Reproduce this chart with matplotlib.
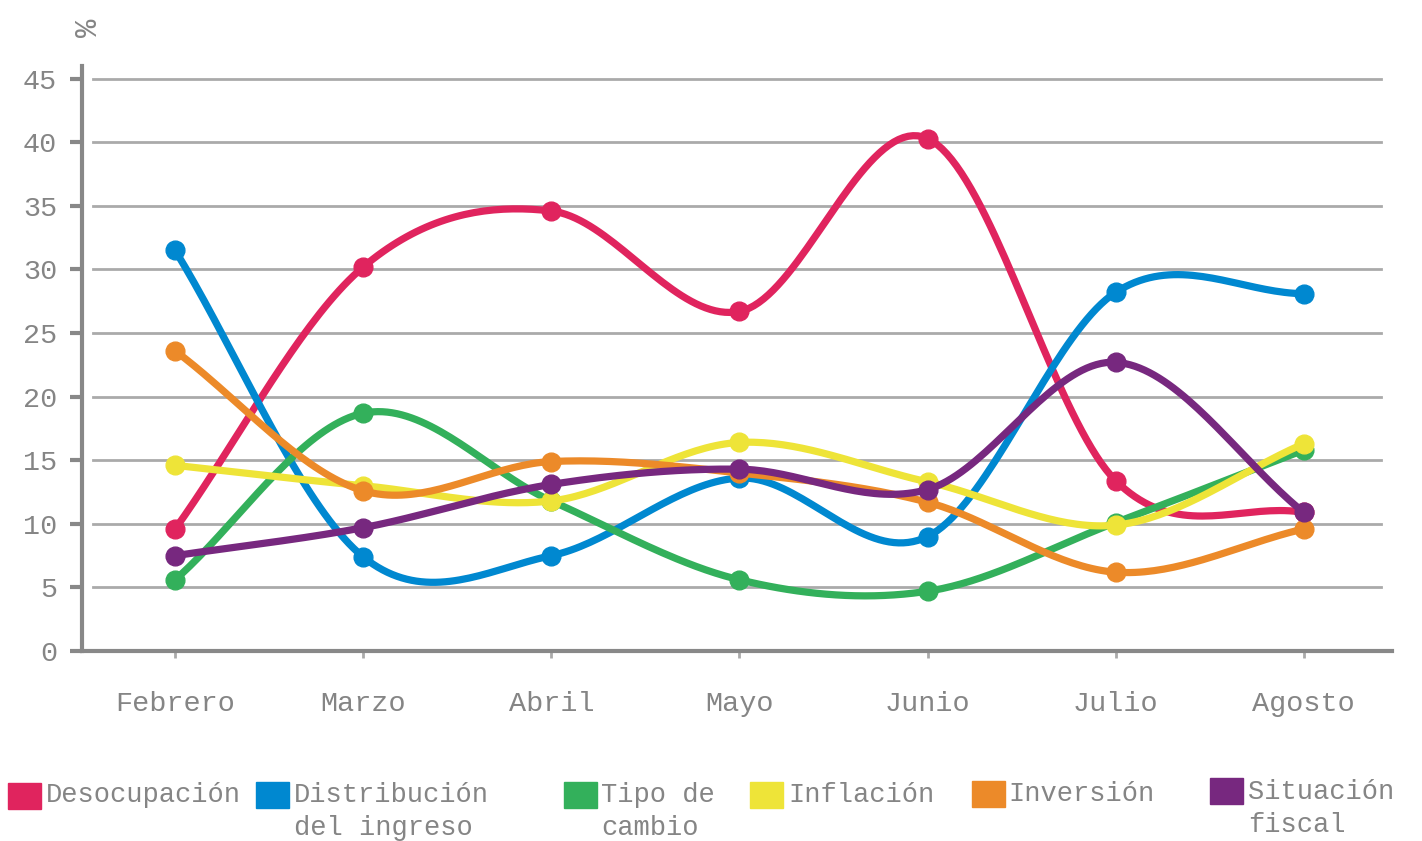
import numpy as np
import matplotlib
matplotlib.use("Agg")
import matplotlib.pyplot as plt
from matplotlib.patches import Rectangle

months = ["Febrero", "Marzo", "Abril", "Mayo", "Junio", "Julio", "Agosto"]
desocupacion = [9.6, 30.2, 34.6, 26.7, 40.3, 13.4, 10.9]
distribucion = [31.5, 7.4, 7.5, 13.6, 9.0, 28.2, 28.1]
tipo_cambio = [5.6, 18.7, 11.8, 5.6, 4.7, 10.1, 15.8]
inflacion = [14.6, 13.0, 11.8, 16.4, 13.3, 9.9, 16.3]
inversion = [23.6, 12.6, 14.9, 14.0, 11.7, 6.2, 9.6]
situacion_fiscal = [7.5, 9.7, 13.1, 14.3, 12.7, 22.7, 10.9]

series = [
    ("Desocupación", desocupacion, "#E0245E"),
    ("Distribución\ndel ingreso", distribucion, "#0088D0"),
    ("Tipo de\ncambio", tipo_cambio, "#33B05B"),
    ("Inflación", inflacion, "#EEE438"),
    ("Inversión", inversion, "#EC8A29"),
    ("Situación\nfiscal", situacion_fiscal, "#77287F"),
]
yticks = [0, 5, 10, 15, 20, 25, 30, 35, 40, 45]

FONT = "Liberation Mono"
GRAY = "#858585"


def catmull_rom(x, y, n=40):
    x = np.asarray(x, float)
    y = np.asarray(y, float)
    px = np.concatenate([[2 * x[0] - x[1]], x, [2 * x[-1] - x[-2]]])
    py = np.concatenate([[2 * y[0] - y[1]], y, [2 * y[-1] - y[-2]]])
    xs, ys = [], []
    t = np.linspace(0, 1, n)
    for i in range(1, len(px) - 2):
        for P, out in ((px, xs), (py, ys)):
            p0, p1, p2, p3 = P[i - 1], P[i], P[i + 1], P[i + 2]
            out.append(0.5 * ((2 * p1) + (-p0 + p2) * t
                              + (2 * p0 - 5 * p1 + 4 * p2 - p3) * t ** 2
                              + (-p0 + 3 * p1 - 3 * p2 + p3) * t ** 3))
    return np.concatenate(xs), np.concatenate(ys)


fig = plt.figure(figsize=(14.22, 8.41), dpi=100)
ax = fig.add_axes([0.0577, 0.2259, 0.9213, 0.6956])

x = np.arange(len(months))
for z, (name, vals, col) in enumerate(series):
    sx, sy = catmull_rom(x, vals)
    ax.plot(sx, sy, color=col, lw=5.2, solid_capstyle="round", zorder=3 + z)
    ax.plot(x, vals, "o", color=col, ms=13.5, zorder=3 + z)

ax.set_xlim(-0.495, 6.47)
ax.set_ylim(0, 46)
ax.set_xticks(x)
ax.set_xticklabels(months, fontfamily=FONT, fontsize=20.5, color=GRAY)
ax.set_yticks(yticks)
ax.set_yticklabels([str(v) for v in yticks], fontfamily=FONT, fontsize=20.5, color=GRAY)
ax.tick_params(axis="y", length=9, width=3, color="#888888", pad=9)
ax.tick_params(axis="x", length=5, width=2, color="#aaaaaa", pad=24, direction="out")

for v in yticks[1:]:
    ax.axhline(v, xmin=0.008, xmax=0.9916, color="#aaaaaa", lw=2, zorder=1)

for s in ["top", "right"]:
    ax.spines[s].set_visible(False)
ax.spines["left"].set_color("#888888")
ax.spines["left"].set_linewidth(3)
ax.spines["bottom"].set_color("#888888")
ax.spines["bottom"].set_linewidth(3)

fig.text(89 / 1422, 1 - 28 / 841, "%", rotation=90, fontfamily=FONT, fontsize=22,
         color=GRAY, ha="center", va="center")

# legend
W, H = 1422, 841
leg = [(8, 783, 46, 795), (256, 782, 294, 795), (564, 782, 601, 795),
       (750, 782, 788, 795), (972, 781, 1008, 794), (1210, 778, 1248, 792)]
for (name, vals, col), (sx0, sy0, tx, ty) in zip(series, leg):
    fig.patches.append(Rectangle((sx0 / W, 1 - (sy0 + 26) / H), 33 / W, 26 / H,
                                 transform=fig.transFigure, color=col))
    for k, line in enumerate(name.split("\n")):
        fig.text(tx / W, 1 - (ty + 33 * k) / H, line, fontfamily=FONT, fontsize=19.5,
                 color=GRAY, ha="left", va="center")

fig.savefig("out.png", dpi=100)
